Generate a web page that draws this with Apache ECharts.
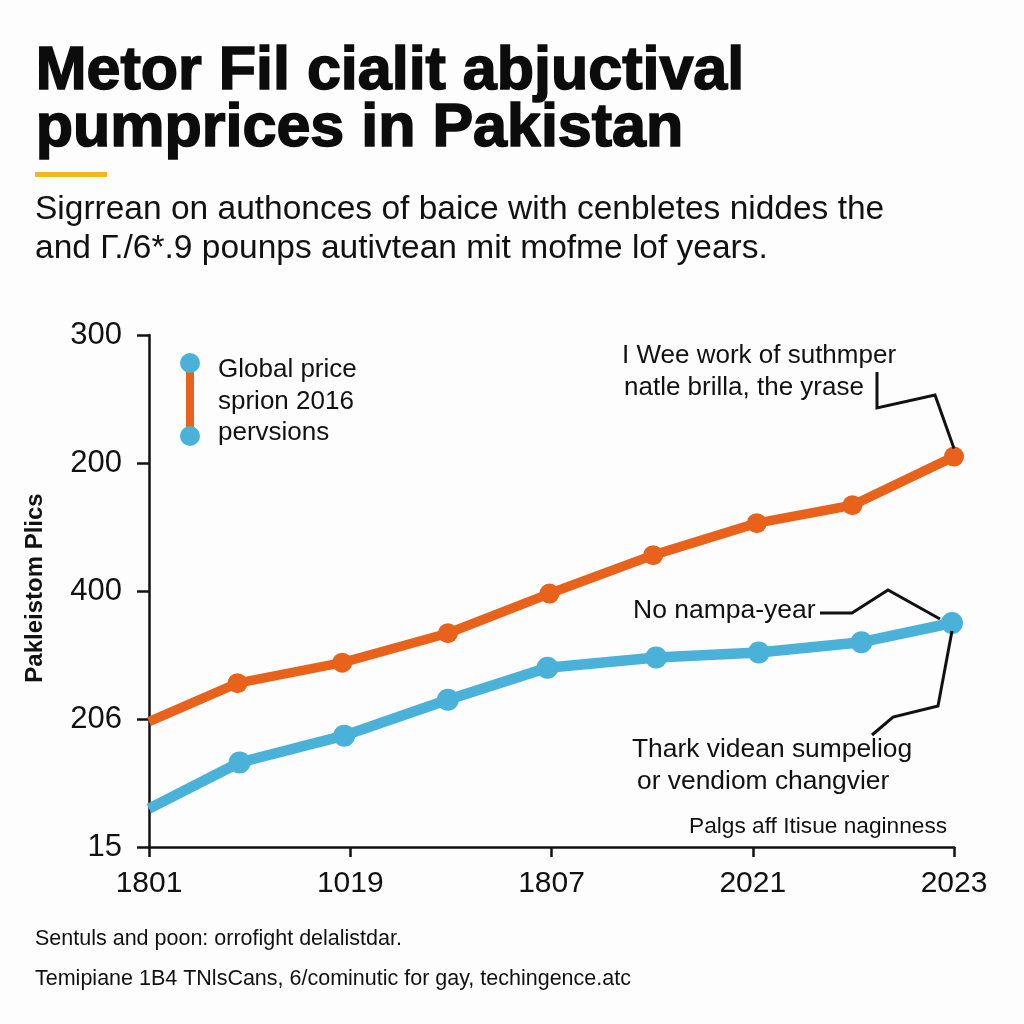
<!DOCTYPE html>
<html>
<head>
<meta charset="utf-8">
<script src="https://cdn.jsdelivr.net/npm/echarts@6/dist/echarts.min.js"></script>
<style>
html,body{margin:0;padding:0;background:#fdfdfd;}
#c{width:1024px;height:1024px;}
</style>
</head>
<body>
<div id="c"></div>
<script>
// ---- data ----
const xTickLabels = ['1801', '1019', '1807', '2021', '2023'];
const yTickLabels = ['15', '206', '400', '200', '300'];
const orangeX = [0, 0.88, 1.92, 2.97, 3.98, 5.01, 6.04, 6.99, 8.0];
const orangeY = [0.98, 1.28, 1.44, 1.67, 1.98, 2.28, 2.53, 2.67, 3.05];
const blueX = [0, 0.90, 1.94, 2.97, 3.96, 5.04, 6.06, 7.08, 7.98];
const blueY = [0.30, 0.66, 0.87, 1.15, 1.40, 1.48, 1.52, 1.60, 1.75];
const legendLines = ['Global price', 'sprion 2016', 'pervsions'];
const titleLines = ['Metor Fil cialit abjuctival', 'pumprices in Pakistan'];
const subtitleLines = ['Sigrrean on authonces of baice with cenbletes niddes the', 'and \u0413./6*.9 pounps autivtean mit mofme lof years.'];
const footerLines = ['Sentuls and poon: orrofight delalistdar.', 'Temipiane 1B4 TNlsCans, 6/cominutic for gay, techingence.atc'];
const yAxisTitle = 'Pakleistom Plics';
const note1 = ['I Wee work of suthmper', 'natle brilla, the yrase'];
const note2 = 'No nampa-year';
const note3 = ['Thark videan sumpeliog', 'or vendiom changvier'];
const note4 = 'Palgs aff Itisue naginness';

const ORANGE = '#e8621c';
const BLUE = '#4ab2d8';
const FONT = '"Liberation Sans", Arial, sans-serif';

function pts(xs, ys) {
  return xs.map((x, i) => i === 0 ? {value: [x, ys[i]], symbol: 'none'} : [x, ys[i]]);
}

const chart = echarts.init(document.getElementById('c'), null, {renderer: 'canvas'});
const option = {
  backgroundColor: '#fdfdfd',
  animation: false,
  grid: {left: 149, right: 70, top: 335, bottom: 177, containLabel: false},
  xAxis: {
    type: 'value', min: 0, max: 8, interval: 2,
    axisLine: {show: true, lineStyle: {color: '#111', width: 2.5}},
    axisTick: {show: true, length: 10, lineStyle: {color: '#111', width: 2.5}},
    splitLine: {show: false},
    axisLabel: {
      margin: 22, color: '#111', fontSize: 30, fontFamily: FONT,
      formatter: v => xTickLabels[Math.round(v / 2)] || ''
    }
  },
  yAxis: {
    type: 'value', min: 0, max: 4, interval: 1,
    axisLine: {show: true, lineStyle: {color: '#111', width: 2.5}},
    axisTick: {show: true, length: 12, lineStyle: {color: '#111', width: 2.5}},
    splitLine: {show: false},
    axisLabel: {
      margin: 27, color: '#111', fontSize: 31, fontFamily: FONT,
      formatter: v => yTickLabels[Math.round(v)] || ''
    }
  },
  series: [
    {
      type: 'line', data: pts(orangeX, orangeY), z: 3,
      lineStyle: {color: ORANGE, width: 9.5}, itemStyle: {color: ORANGE},
      symbol: 'circle', symbolSize: 20
    },
    {
      type: 'line', data: pts(blueX, blueY), z: 3,
      lineStyle: {color: BLUE, width: 10.5}, itemStyle: {color: BLUE},
      symbol: 'circle', symbolSize: 22
    }
  ]
};
chart.setOption(option);

// anchors computed from data via the chart scales
const oEnd = chart.convertToPixel({gridIndex: 0}, [orangeX[8], orangeY[8]]);
const bEnd = chart.convertToPixel({gridIndex: 0}, [blueX[8], blueY[8]]);

const txt = (x, y, text, size, weight, extra) => Object.assign({
  type: 'text', left: x, top: y,
  style: {text: text, fill: '#111', font: (weight || 'normal') + ' ' + size + 'px ' + FONT}
}, extra || {});

const heavy = (x, y, text) => ({
  type: 'text', left: x, top: y,
  style: {text: text, fill: '#0c0c0c', stroke: '#0c0c0c', lineWidth: 1.6, font: 'bold 61px ' + FONT}
});

const graphics = [
  heavy(35, 41, titleLines[0]),
  heavy(35, 98, titleLines[1]),
  {type: 'rect', shape: {x: 35, y: 172, width: 72, height: 5}, style: {fill: '#f0b81c'}},
  txt(35, 193, subtitleLines[0], 33.5),
  txt(35, 232, subtitleLines[1], 33.5),
  // y axis title
  {type: 'text', x: 35, y: 588, rotation: Math.PI / 2,
   style: {text: yAxisTitle, fill: '#111', font: 'bold 24px ' + FONT, textAlign: 'center', textVerticalAlign: 'middle'}},
  // legend
  {type: 'rect', shape: {x: 186, y: 368, width: 8, height: 62}, style: {fill: ORANGE}, z: 10},
  {type: 'circle', shape: {cx: 190, cy: 363, r: 10}, style: {fill: BLUE}, z: 11},
  {type: 'circle', shape: {cx: 190, cy: 436, r: 10}, style: {fill: BLUE}, z: 11},
  txt(218, 357, legendLines[0], 26),
  txt(218, 389, legendLines[1], 26),
  txt(218, 420, legendLines[2], 26),
  // annotation 1
  txt(622, 343, note1[0], 26),
  txt(624, 375, note1[1], 26),
  {type: 'polyline', shape: {points: [[877, 372], [877, 408], [935, 395], [oEnd[0], oEnd[1] - 8]]},
   style: {stroke: '#111', lineWidth: 3, fill: null}, z: 5},
  // annotation 2
  txt(633, 597, note2, 26.5),
  {type: 'polyline', shape: {points: [[820, 613], [852, 613], [888, 590], [bEnd[0] - 12, bEnd[1] - 4]]},
   style: {stroke: '#111', lineWidth: 3, fill: null}, z: 5},
  {type: 'polyline', shape: {points: [[bEnd[0], bEnd[1] + 8], [938, 706], [893, 717], [872, 735]]},
   style: {stroke: '#111', lineWidth: 3, fill: null}, z: 5},
  // annotation 3
  txt(632, 737, note3[0], 26.4),
  txt(637, 769, note3[1], 26.4),
  txt(689, 815, note4, 22.7),
  // footer
  txt(35, 928, footerLines[0], 21.5),
  txt(35, 968, footerLines[1], 21.5)
];
chart.setOption({graphic: graphics});
</script>
</body>
</html>
